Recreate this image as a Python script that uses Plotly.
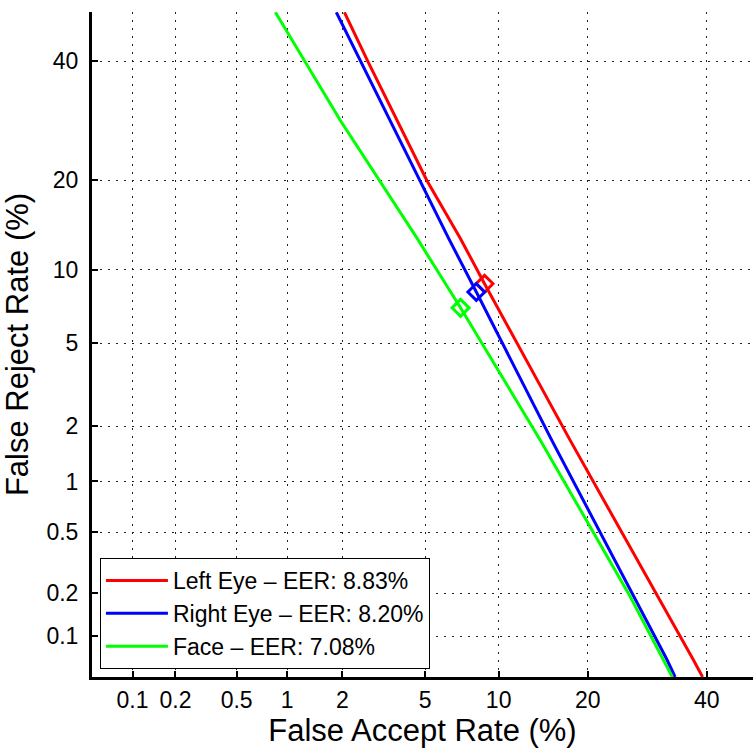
import plotly.graph_objects as go
from statistics import NormalDist

_nd = NormalDist()


def probit(pct):
    return _nd.inv_cdf(pct / 100.0)


# Tick values (percent) and labels
tick_pct = [0.1, 0.2, 0.5, 1, 2, 5, 10, 20, 40]
tick_labels = ["0.1", "0.2", "0.5", "1", "2", "5", "10", "20", "40"]

# DET curves: False Accept Rate (%) vs False Reject Rate (%)
left_far = [2.05, 2.69, 5.09, 7.06, 8.83, 17.65, 37.4, 39.2]
left_frr = [49.5, 40.0, 20.0, 13.0, 8.83, 1.69, 0.068, 0.05]

right_far = [1.86, 6.31, 8.20, 15.4, 32.6, 34.1]
right_frr = [49.5, 13.0, 8.20, 1.69, 0.068, 0.05]

face_far = [0.855, 1.95, 4.60, 7.08, 14.1, 26.1, 33.6]
face_frr = [49.5, 29.3, 13.0, 7.08, 1.69, 0.2, 0.05]

# Equal error rates (%)
eer_left = 8.83
eer_right = 8.20
eer_face = 7.08

series = [
    ("Left Eye \u2013 EER: 8.83%", left_far, left_frr, eer_left, "#FF0000"),
    ("Right Eye \u2013 EER: 8.20%", right_far, right_frr, eer_right, "#0000FF"),
    ("Face \u2013 EER: 7.08%", face_far, face_frr, eer_face, "#00FF00"),
]

FONT = "Liberation Sans, Arial, Helvetica, sans-serif"

fig = go.Figure()
for name, far, frr, eer, color in series:
    fig.add_trace(go.Scatter(
        x=[probit(v) for v in far],
        y=[probit(v) for v in frr],
        mode="lines",
        name=name,
        line=dict(color=color, width=3),
    ))
for name, far, frr, eer, color in series:
    fig.add_trace(go.Scatter(
        x=[probit(eer)],
        y=[probit(eer)],
        mode="markers",
        showlegend=False,
        marker=dict(symbol="diamond-open", size=13, color=color,
                    line=dict(color=color, width=3)),
    ))

tickvals = [probit(v) for v in tick_pct]

axis_common = dict(
    tickmode="array",
    tickvals=tickvals,
    ticktext=tick_labels,
    ticks="inside",
    ticklen=6,
    tickwidth=2,
    tickcolor="black",
    showline=True,
    linewidth=3,
    linecolor="black",
    mirror=False,
    showgrid=True,
    gridcolor="#222222",
    gridwidth=1,
    griddash="2px,6px",
    zeroline=False,
    tickfont=dict(family=FONT, size=23, color="black"),
)

fig.update_layout(
    width=753,
    height=749,
    margin=dict(l=92, r=0, t=12, b=72),
    paper_bgcolor="white",
    plot_bgcolor="white",
    xaxis=dict(
        range=[probit(0.05), -0.025],
        title=dict(text="False Accept Rate (%)", standoff=0,
                   font=dict(family=FONT, size=31, color="black")),
        ticklabelstandoff=0,
        **axis_common,
    ),
    yaxis=dict(
        range=[probit(0.05), -0.011],
        title=dict(text="False Reject Rate (%)", standoff=9,
                   font=dict(family=FONT, size=31, color="black")),
        ticklabelstandoff=6,
        **axis_common,
    ),
    legend=dict(
        x=0.012, y=0.012, xanchor="left", yanchor="bottom",
        bgcolor="white", bordercolor="black", borderwidth=1,
        font=dict(family=FONT, size=23, color="black"),
        itemwidth=62,
        tracegroupgap=0,
    ),
    showlegend=True,
)

fig.write_html("out.html")
